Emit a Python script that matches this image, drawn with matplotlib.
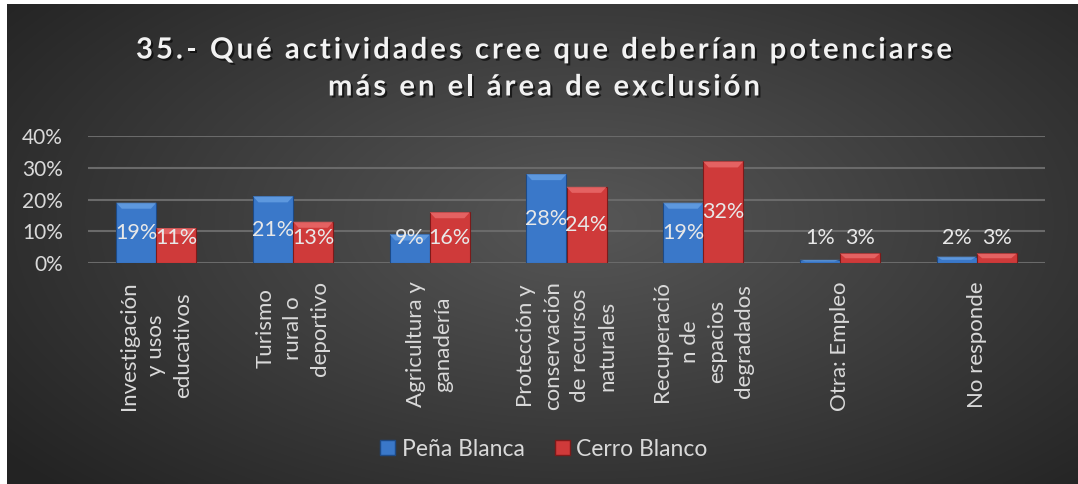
import numpy as np
import matplotlib
matplotlib.use("Agg")
import matplotlib.pyplot as plt
from matplotlib import patheffects as pe
from matplotlib.patches import Polygon, Patch
from matplotlib.font_manager import FontProperties
from matplotlib.textpath import text_to_path

# ---- data ----
categories = [
    "Investigación\ny usos\neducativos",
    "Turismo\nrural o\ndeportivo",
    "Agricultura y\nganadería",
    "Protección y\nconservación\nde recursos\nnaturales",
    "Recuperació\nn de\nespacios\ndegradados",
    "Otra: Empleo",
    "No responde",
]
series_names = ["Peña Blanca", "Cerro Blanco"]
pena_blanca = [19, 21, 9, 28, 19, 1, 2]
cerro_blanco = [11, 13, 16, 24, 32, 3, 3]
yticks = [0, 10, 20, 30, 40]
title_lines = ["35.- Qué actividades cree que deberían potenciarse",
               "más en el área de exclusión"]

plt.rcParams['font.family'] = ['Lato', 'DejaVu Sans']

W, H = 1078, 484
fig = plt.figure(figsize=(W / 100, H / 100), dpi=100, facecolor="white")

# background radial gradient panel
bg = fig.add_axes([7 / W, 0, 1 - 7 / W, 1 - 4 / H])
bg.set_axis_off()
yy, xx = np.mgrid[0:200, 0:400]
cx, cy = 215, 90
r = np.sqrt(((xx - cx) / 260.0) ** 2 + ((yy - cy) / 150.0) ** 2)
val = np.clip(0.34 - 0.19 * r, 0.14, 0.34)
img = np.dstack([val, val, val])
bg.imshow(img, aspect="auto", extent=[0, 1, 0, 1], interpolation="bilinear")
bg.set_xlim(0, 1)
bg.set_ylim(0, 1)

ax = fig.add_axes([88 / W, 1 - 263 / H, (1045 - 88) / W, (263 - 136) / H])
ax.patch.set_alpha(0)
for s in ax.spines.values():
    s.set_visible(False)

x = np.arange(len(categories))
w = 0.293
blue, blue_edge, blue_top = "#3a78c9", "#1d4a86", "#6aa3e6"
red, red_edge, red_top = "#cf3a3a", "#7d1a1a", "#ec7070"

b1 = ax.bar(x - w / 2, pena_blanca, w, color=blue, edgecolor=blue_edge, linewidth=0.8, zorder=3)
b2 = ax.bar(x + w / 2, cerro_blanco, w, color=red, edgecolor=red_edge, linewidth=0.8, zorder=3)

# bevel highlight on top of each bar (derived from the bar geometry)
for bars, tc in ((b1, blue_top), (b2, red_top)):
    for p in bars:
        bx, by, bw, bh = p.get_x(), p.get_y(), p.get_width(), p.get_height()
        hh = min(1.9, bh / 2)
        d = 0.04
        poly = Polygon([(bx, by + bh), (bx + bw, by + bh), (bx + bw - d, by + bh - hh), (bx + d, by + bh - hh)],
                       closed=True, facecolor=tc, edgecolor="none", alpha=0.75, zorder=4)
        ax.add_patch(poly)

# data labels
lab_col = "#e8e8e8"
for bars, vals in ((b1, pena_blanca), (b2, cerro_blanco)):
    for p, v in zip(bars, vals):
        ax.text(p.get_x() + p.get_width() / 2, max(v / 2, 7.9), f"{v}%", ha="center", va="center",
                fontsize=15.5, color=lab_col, zorder=6)

ax.set_xlim(-0.5, len(categories) - 0.5)
ax.set_ylim(0, 40)
ax.set_yticks(yticks)
ax.set_yticklabels([f"{t}%" for t in yticks])
ax.yaxis.grid(True, color="#6a6a6a", linewidth=1.5, zorder=0)
ax.set_axisbelow(True)
ax.tick_params(axis="y", length=0, pad=18, labelsize=15, labelcolor="#d9d9d9")
ax.set_xticks(x)
ax.set_xticklabels(categories, rotation=90, va="top", ha="center", multialignment="center",
                   linespacing=1.45)
ax.tick_params(axis="x", length=0, pad=13, labelsize=16, labelcolor="#d9d9d9")

# title with letter spacing (each character placed after measuring prefix widths)
tfs = 21
tprop = FontProperties(family=['Lato', 'DejaVu Sans'], weight="bold", size=tfs)
px_per_pt = 100 / 72.0
target_w = 816.0


def prefix_w(s):
    if not s:
        return 0.0
    wpt, _, _ = text_to_path.get_text_width_height_descent(s, tprop, ismath=False)
    return wpt * px_per_pt


line0 = title_lines[0]
spacing = (target_w - prefix_w(line0)) / (len(line0) - 1)
shadow = [pe.withSimplePatchShadow(offset=(1.5, -1.5), shadow_rgbFace="black", alpha=0.6)]
for line, yc in zip(title_lines, (48, 85)):
    total = prefix_w(line) + spacing * (len(line) - 1)
    x0 = 544 - total / 2
    for i, ch in enumerate(line):
        if ch == " ":
            continue
        xp = x0 + prefix_w(line[:i]) + spacing * i
        fig.text(xp / W, 1 - yc / H, ch, ha="left", va="center_baseline", fontproperties=tprop,
                 color="#f2f2f2", path_effects=shadow)

handles = [Patch(facecolor=blue, edgecolor=blue_edge), Patch(facecolor=red, edgecolor=red_edge)]
leg = fig.legend(handles, series_names, loc="center", bbox_to_anchor=(544 / W, 1 - 449 / H), ncol=2,
                 frameon=False, fontsize=16.5, handlelength=0.65, handleheight=0.65, handletextpad=0.3,
                 columnspacing=1.3)
for t in leg.get_texts():
    t.set_color("#d9d9d9")

fig.savefig("out.png", dpi=100, facecolor="white")
